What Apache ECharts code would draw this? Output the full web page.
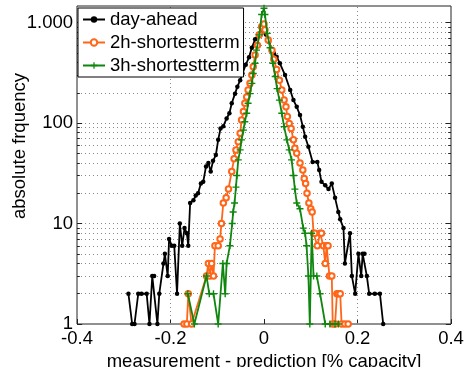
<!DOCTYPE html>
<html>
<head>
<meta charset="utf-8">
<script src="https://cdn.jsdelivr.net/npm/echarts@6/dist/echarts.min.js"></script>
<style>
  html, body { margin: 0; padding: 0; background: #fff; }
  #chart { width: 465px; height: 367px; }
</style>
</head>
<body>
<div id="chart"></div>
<script>
// Forecast error histograms: error (share of capacity) vs. count, log scale.
const dayAheadX = [-0.290,-0.282,-0.277,-0.269,-0.262,-0.251,-0.245,-0.239,-0.235,-0.228,-0.224,-0.215,-0.212,-0.206,-0.203,-0.197,-0.192,-0.186,-0.180,-0.175,-0.170,-0.165,-0.162,-0.158,-0.151,-0.146,-0.141,-0.135,-0.130,-0.124,-0.119,-0.114,-0.109,-0.103,-0.098,-0.093,-0.087,-0.080,-0.074,-0.069,-0.062,-0.057,-0.051,-0.046,-0.039,-0.032,-0.026,-0.019,-0.013,-0.006,0.000,0.004,0.011,0.017,0.021,0.027,0.034,0.045,0.056,0.063,0.070,0.077,0.083,0.088,0.095,0.104,0.114,0.118,0.123,0.131,0.138,0.145,0.152,0.159,0.163,0.170,0.173,0.184,0.188,0.195,0.202,0.208,0.211,0.215,0.220,0.225,0.237,0.248,0.255];
const dayAheadY = [2,1,1,2,2,2,1,3,3,1,2,4,5,3,7,6,6,2,10,6,9,8,6,16,17,19,20,25,26,37,40,33,42,48,68,88,93,111,125,157,196,229,267,311,380,450,560,680,760,800,820,760,640,540,494,457,393,300,213,169,145,120,92,73,58,41,41,34,26,24,22,25,18,13,11,9,4,8,3,2,5,3,5,5,3,2,2,2,1];

const shortTerm2hX = [-0.171,-0.165,-0.162,-0.155,-0.123,-0.119,-0.116,-0.112,-0.108,-0.105,-0.098,-0.094,-0.091,-0.087,-0.081,-0.076,-0.069,-0.064,-0.060,-0.055,-0.051,-0.048,-0.044,-0.041,-0.037,-0.034,-0.030,-0.026,-0.023,-0.019,-0.014,-0.010,-0.005,0.000,0.002,0.009,0.017,0.021,0.027,0.033,0.038,0.043,0.047,0.050,0.054,0.058,0.063,0.066,0.070,0.077,0.083,0.086,0.089,0.092,0.096,0.100,0.103,0.106,0.109,0.114,0.120,0.123,0.127,0.131,0.134,0.137,0.140,0.145,0.147,0.152,0.156,0.159,0.163,0.166,0.173,0.180];
const shortTerm2hY = [1,1,2,1,3,4,3,4,3,6,6,7,10,16,18,22,33,44,54,65,79,107,130,157,182,213,248,300,363,475,595,754,910,966,846,671,531,430,340,267,213,169,145,116,99,88,68,56,50,40,34,28,25,20,16,14,13,8,8,6,8,8,6,4,6,6,3,3,1,1,2,2,2,1,1,1];

const shortTerm3hX = [-0.163,-0.149,-0.123,-0.117,-0.108,-0.098,-0.088,-0.083,-0.080,-0.073,-0.068,-0.066,-0.063,-0.060,-0.058,-0.055,-0.051,-0.048,-0.044,-0.041,-0.037,-0.034,-0.030,-0.026,-0.023,-0.019,-0.016,-0.010,-0.005,0.000,0.002,0.007,0.013,0.019,0.024,0.028,0.033,0.038,0.043,0.049,0.054,0.059,0.063,0.066,0.070,0.077,0.084,0.088,0.091,0.095,0.098,0.102,0.106,0.113,0.120,0.131,0.141,0.152,0.159];
const shortTerm3hY = [2,1,3,2,2,1,4,2,4,6,10,13,16,23,30,43,54,68,85,103,125,157,196,248,311,393,531,754,1200,1385,1200,780,560,393,290,220,169,125,92,68,54,43,30,22,16,14,9,8,6,3,1,8,3,3,2,1,1,1,1];

const seriesNames = ['day-ahead', '2h-shortestterm', '3h-shortestterm'];
const xTicks = [-0.4, -0.2, 0, 0.2, 0.4];
const xGridLevels = [-0.2, 0.2];
const yDecades = [1, 10, 100, 1000];
const yTickLabels = { 1: '1', 10: '10', 100: '100', 1000: '1.000' };
const yMinorLevels = [2,3,4,5,6,7,8,9,20,30,40,50,60,70,80,90,200,300,400,500,600,700,800,900];

const FONT = 'Liberation Sans, Arial, sans-serif';
const FS = 18.5;
const PLUS = 'path://M4,0H6V4H10V6H6V10H4V6H0V4H4Z';
const X_MIN = xTicks[0], X_MAX = xTicks[xTicks.length - 1];
const Y_MIN = 1, Y_MAX = 1460;

const pairs = (xs, ys) => xs.map((x, i) => [x, ys[i]]);

// dotted grid: horizontal at every log level, vertical at the inner x ticks
const gridLines = yDecades.slice(1).concat(yMinorLevels)
  .map(v => [{ coord: [X_MIN, v] }, { coord: [X_MAX, v] }])
  .concat(xGridLevels.map(x => [{ coord: [x, Y_MIN] }, { coord: [x, Y_MAX] }]))
  .map(seg => (seg[0].lineStyle = { type: [1, 3], color: '#888', width: 1 }, seg));

// short inward tick segments on the left and right frame edges
const TICK_MAJOR = 0.011, TICK_MINOR = 0.006;
const edgeTicks = [];
yDecades.concat(yMinorLevels).forEach(v => {
  const len = yDecades.includes(v) ? TICK_MAJOR : TICK_MINOR;
  edgeTicks.push([{ coord: [X_MIN, v] }, { coord: [X_MIN + len, v] }]);
  edgeTicks.push([{ coord: [X_MAX, v] }, { coord: [X_MAX - len, v] }]);
});

const chart = echarts.init(document.getElementById('chart'), null, { renderer: 'canvas' });

chart.setOption({
  animation: false,
  backgroundColor: '#fff',
  textStyle: { fontFamily: FONT, color: '#000' },
  tooltip: { show: false },
  axisPointer: { show: false },
  grid: {
    left: 77, right: 14, top: 6, bottom: 43,
    containLabel: false, outerBoundsMode: 'none',
    show: true, borderColor: '#222', borderWidth: 1, backgroundColor: 'transparent'
  },
  xAxis: {
    type: 'value', min: X_MIN, max: X_MAX, interval: 0.2,
    axisLine: { show: false, onZero: false },
    axisTick: { show: true, inside: true, length: 5, lineStyle: { color: '#222' } },
    axisLabel: {
      fontSize: FS, fontFamily: FONT, color: '#000', margin: 5,
      formatter: v => String(Math.round(v * 10) / 10)
    },
    splitLine: { show: false },
    axisPointer: { show: false },
    name: 'measurement - prediction [% capacity]',
    nameLocation: 'middle', nameGap: 23,
    nameTextStyle: { fontSize: FS, fontFamily: FONT, color: '#000' }
  },
  yAxis: {
    type: 'log', logBase: 10, min: Y_MIN, max: Y_MAX, position: 'left',
    axisLine: { show: false, onZero: false },
    axisTick: { show: false },
    axisLabel: {
      fontSize: FS, fontFamily: FONT, color: '#000', margin: 4,
      formatter: v => yTickLabels[Math.round(v)] || ''
    },
    splitLine: { show: false },
    axisPointer: { show: false }
  },
  legend: {
    data: seriesNames,
    orient: 'vertical', left: 78, top: 8,
    padding: [2, 4, 2, 4], itemGap: 4,
    itemWidth: 22, itemHeight: 8,
    backgroundColor: '#fff', borderColor: '#000', borderWidth: 1, borderRadius: 0,
    textStyle: { fontSize: FS, fontFamily: FONT, color: '#000' }
  },
  graphic: [{
    type: 'text', x: 20, y: 146, rotation: Math.PI / 2,
    style: {
      text: 'absolute frquency', fill: '#000',
      font: FS + 'px ' + FONT, align: 'center', verticalAlign: 'middle'
    }
  }],
  series: [
    {
      name: seriesNames[0], type: 'line', z: 3,
      data: pairs(dayAheadX, dayAheadY),
      symbol: 'circle', symbolSize: 4.5,
      color: '#000',
      lineStyle: { color: '#000', width: 1.8 },
      itemStyle: { color: '#000' },
      // grid lines and frame ticks ride along on this series
      markLine: {
        silent: true, z: 1, symbol: ['none', 'none'], label: { show: false },
        lineStyle: { type: 'solid', color: '#222', width: 1 },
        emphasis: { disabled: true },
        data: gridLines.concat(edgeTicks)
      }
    },
    {
      name: seriesNames[1], type: 'line', z: 4,
      data: pairs(shortTerm2hX, shortTerm2hY),
      symbol: 'emptyCircle', symbolSize: 5.5,
      color: '#ff6619',
      lineStyle: { color: '#ff6619', width: 1.8 },
      itemStyle: { color: '#ff6619', borderColor: '#ff6619', borderWidth: 1.5 }
    },
    {
      name: seriesNames[2], type: 'line', z: 5,
      data: pairs(shortTerm3hX, shortTerm3hY),
      symbol: PLUS, symbolSize: 7,
      color: '#0f870f',
      lineStyle: { color: '#0f870f', width: 1.8 },
      itemStyle: { color: '#0f870f' }
    }
  ]
});
</script>
</body>
</html>
